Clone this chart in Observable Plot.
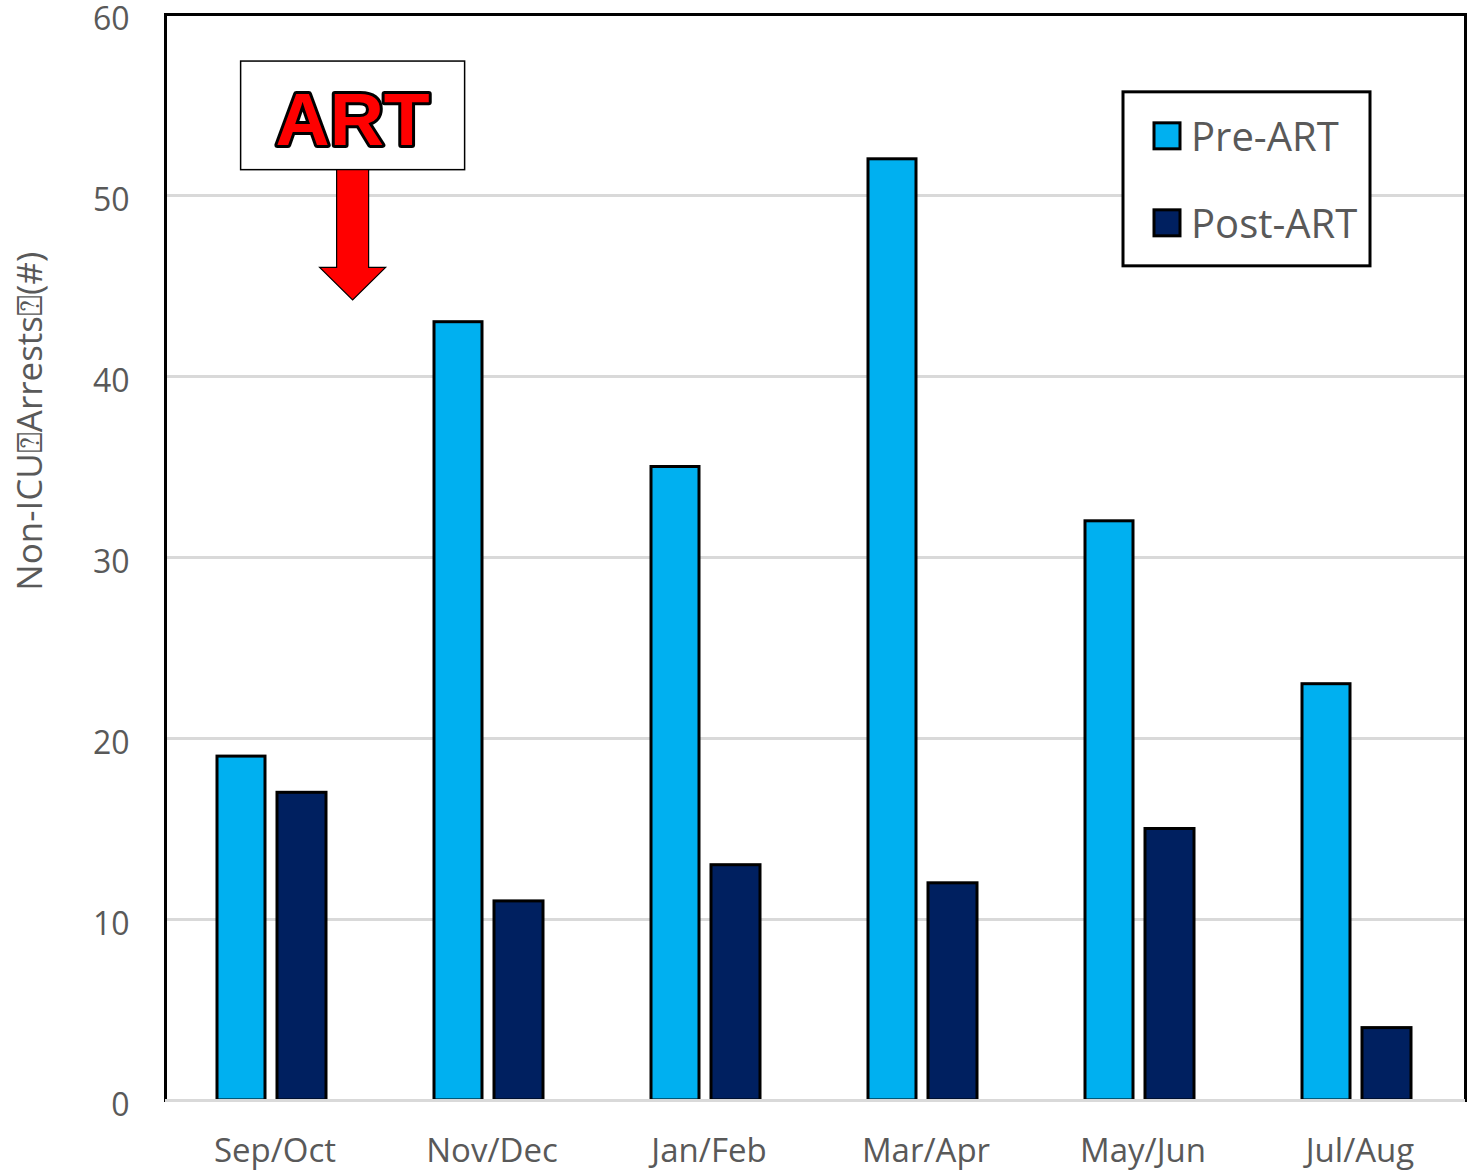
<!DOCTYPE html>
<html>
<head>
<meta charset="utf-8">
<script src="https://cdn.jsdelivr.net/npm/d3@7"></script>
<script src="https://cdn.jsdelivr.net/npm/@observablehq/plot@0.6"></script>
<style>
  html, body { margin: 0; padding: 0; background: #fff; }
  #chart svg { display: block; overflow: visible; }
</style>
</head>
<body>
<div id="chart"></div>
<script>
const categories = ["Sep/Oct", "Nov/Dec", "Jan/Feb", "Mar/Apr", "May/Jun", "Jul/Aug"];
const preArt = [19, 43, 35, 52, 32, 23];
const postArt = [17, 11, 13, 12, 15, 4];
const seriesNames = ["Pre-ART", "Post-ART"];
const seriesColors = ["#00B0F0", "#002060"];
const yTicks = [0, 10, 20, 30, 40, 50, 60];
const yLabel = "Non-ICU\u2370Arrests\u2370(#)";
const annotationText = "ART";

(function () {
const preData = categories.map((c, i) => ({cat: c, value: preArt[i]}));
const postData = categories.map((c, i) => ({cat: c, value: postArt[i]}));

const W = 1468, H = 1173;
const font = "'Open Sans', sans-serif";

const plot = Plot.plot({
  width: W,
  height: H,
  marginLeft: 165,
  marginRight: 3,
  marginTop: 14,
  marginBottom: 73,
  style: {fontFamily: font, fontSize: "33px", color: "#595959", background: "#fff"},
  x: {domain: categories, range: [165, 1469], paddingInner: 0, paddingOuter: 0, label: null},
  y: {domain: [0, 60], label: null},
  marks: [
    Plot.ruleY([10, 20, 30, 40, 50], {stroke: "#d9d9d9", strokeWidth: 3}),
    Plot.barY(preData, {x: "cat", y: "value", fill: seriesColors[0], stroke: "#000", strokeWidth: 3, insetLeft: 51, insetRight: 118}),
    Plot.barY(postData, {x: "cat", y: "value", fill: seriesColors[1], stroke: "#000", strokeWidth: 3, insetLeft: 111, insetRight: 57}),
    Plot.frame({stroke: "#000", strokeWidth: 3}),
    Plot.ruleY([0], {stroke: "#d9d9d9", strokeWidth: 3}),
    Plot.axisY(yTicks, {tickSize: 0, tickPadding: 36, dy: 5, label: null, fontSize: 32, fill: "#595959"}),
    Plot.axisX({tickSize: 0, tickPadding: 38, label: null, fontSize: 33, fill: "#595959"})
  ]
});

document.getElementById("chart").appendChild(plot);

const svg = d3.select(plot);
const xs = plot.scale("x");
const ys = plot.scale("y");
const bw = xs.bandwidth;
const ypx = v => ys.apply(v);

// y-axis title
svg.append("text")
  .attr("transform", `translate(28,${ypx(37.5)}) rotate(-90)`)
  .attr("text-anchor", "middle")
  .attr("dominant-baseline", "central")
  .attr("fill", "#595959")
  .style("font-family", font)
  .style("font-size", "35px")
  .text(yLabel);

// ART annotation (box + arrow), positioned via scales
const ax = xs.apply("Sep/Oct") + bw * 0.86;
const g = svg.append("g");
g.append("rect")
  .attr("x", ax - 112).attr("y", ypx(57.4))
  .attr("width", 224).attr("height", ypx(51.4) - ypx(57.4))
  .attr("fill", "#fff").attr("stroke", "#000").attr("stroke-width", 1.5);
g.append("text")
  .attr("x", ax).attr("y", ypx(54.2))
  .attr("text-anchor", "middle").attr("dominant-baseline", "central")
  .attr("fill", "#ff0000").attr("stroke", "#000").attr("stroke-width", 6)
  .attr("paint-order", "stroke").attr("stroke-linejoin", "round")
  .style("font-family", "'Liberation Sans', Arial, sans-serif")
  .style("font-weight", "bold").style("font-size", "75px")
  .text(annotationText);
const boxBottom = ypx(51.4), neck = ypx(46.0), tip = ypx(44.2);
const arrowPts = [
  [ax - 16, boxBottom], [ax + 16, boxBottom], [ax + 16, neck], [ax + 33, neck],
  [ax, tip], [ax - 33, neck], [ax - 16, neck]
];
g.append("path")
  .attr("d", "M" + arrowPts.map(p => p.join(",")).join("L") + "Z")
  .attr("fill", "#ff0000").attr("stroke", "#000").attr("stroke-width", 1.2);

// Legend inside plot
const legX = 1123, legY = ypx(55.7);
const lg = svg.append("g").attr("text-anchor", "start");
lg.append("rect")
  .attr("x", legX).attr("y", legY)
  .attr("width", 247).attr("height", 174)
  .attr("fill", "#fff").attr("stroke", "#000").attr("stroke-width", 3);
seriesNames.forEach((name, i) => {
  const cy = legY + 44 + i * 87;
  lg.append("rect")
    .attr("x", legX + 31).attr("y", cy - 13)
    .attr("width", 26).attr("height", 26)
    .attr("fill", seriesColors[i]).attr("stroke", "#000").attr("stroke-width", 3);
  lg.append("text")
    .attr("x", legX + 68).attr("y", cy)
    .attr("text-anchor", "start")
    .attr("dominant-baseline", "central")
    .attr("fill", "#595959")
    .style("font-family", font).style("font-size", "40px")
    .text(name);
});
})();
</script>
</body>
</html>
